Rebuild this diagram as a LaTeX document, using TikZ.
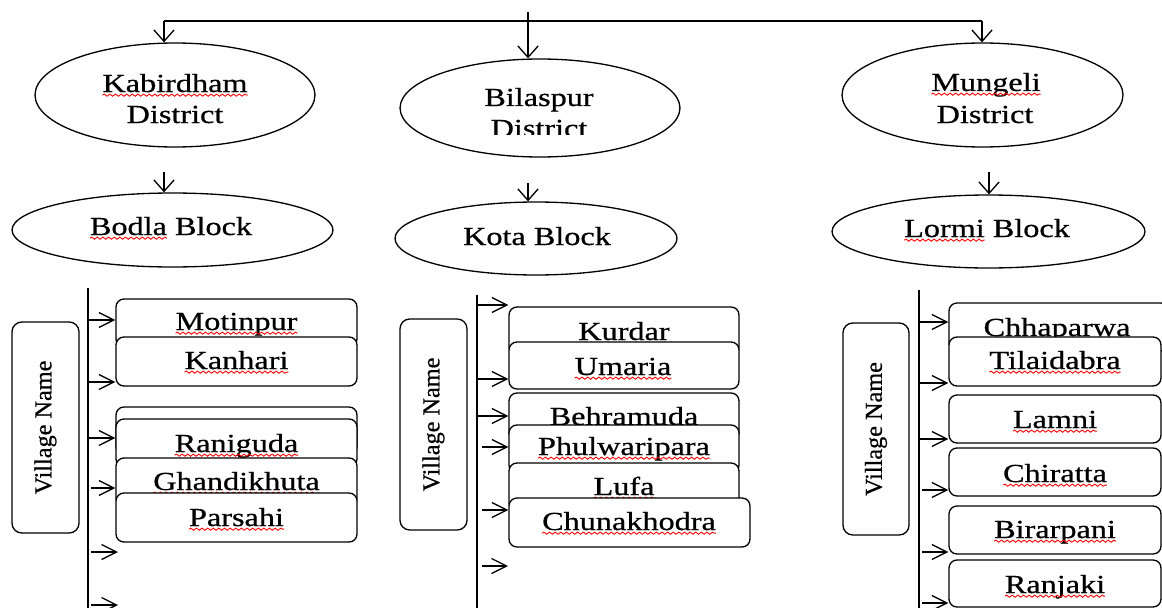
\documentclass[tikz,border=0pt]{standalone}
\usepackage{fontspec}
\setmainfont{Liberation Serif}[FakeBold=0.6]
\usepackage{graphicx}
\usetikzlibrary{shapes.geometric,arrows.meta,decorations.pathmorphing,calc}
\newcommand\fs{\fontsize{14.8pt}{17.6pt}\selectfont}
\newcommand\fsb{\fontsize{13.8pt}{16pt}\selectfont}
\newcommand\sx[1]{\scalebox{1.24}[1]{#1}}
\tikzset{
 ln/.style={line width=0.75pt, draw=black},
 arrv/.style={ln, -{Straight Barb[length=6.5pt,width=11.5pt]}},
 arrh/.style={ln, -{Straight Barb[length=8.5pt,width=8.5pt]}},
 ell/.style={draw, ellipse, line width=0.75pt, inner sep=0pt, fill=white},
 vbox/.style={draw, fill=white, rectangle, rounded corners=4.5pt, line width=0.75pt, inner sep=0pt},
 lbox/.style={vbox, minimum width=4.82cm},
 mbox/.style={vbox, minimum width=4.6cm},
 rbox/.style={vbox, minimum width=4.24cm},
 namebox/.style={draw, fill=white, rectangle, rounded corners=5.5pt, line width=0.75pt, inner sep=0pt, minimum width=1.34cm, minimum height=4.22cm, font=\fsb},
 txt/.style={inner sep=0pt, outer sep=0pt, font=\fs, anchor=base},
 spell/.style={draw=red, line width=0.5pt, decorate, decoration={snake, amplitude=0.6pt, segment length=3.2pt}},
}
\newcommand\sq[1]{\draw[spell] ([yshift=-1.8pt]#1.base west) -- ([yshift=-1.8pt]#1.base east);}
\newcommand\sqp[2]{\draw[spell] ([yshift=-1.8pt]#1.base west) -- ([yshift=-1.8pt]$(#1.base west)!#2!(#1.base east)$);}
\begin{document}
\begin{tikzpicture}[x=0.02cm, y=-0.02cm]
\useasboundingbox (0,0) rectangle (1162,608);
\fill[white] (0,0) rectangle (1162,608);
\clip (0,0) rectangle (1162,608);

% ---------- districts ----------
\node[ell, minimum width=5.6cm, minimum height=2.08cm] (kab) at (175,95) {};
\node[txt] (kab1) at (175,92) {\sx{Kabirdham}};
\node[txt] (kab2) at (175,123) {\sx{District}};
\sq{kab1}

\node[ell, minimum width=5.6cm, minimum height=1.96cm] (bil) at (540,108) {};
\begin{scope}
\clip (420,60) rectangle (660,134);
\node[txt] (bil1) at (539,106) {\sx{Bilaspur}};
\node[txt] (bil2) at (539,137) {\sx{District}};
\end{scope}

\node[ell, minimum width=5.62cm, minimum height=2.08cm] (mun) at (982.5,95) {};
\node[txt] (mun1) at (986,91) {\sx{Mungeli}};
\node[txt] (mun2) at (985,123) {\sx{District}};
\sq{mun1}

% ---------- blocks ----------
\node[ell, minimum width=6.42cm, minimum height=1.48cm] (bod) at (172.5,230) {};
\node[txt] (bod1) at (171,235) {\sx{Bodla Block}};
\sqp{bod1}{0.475}

\node[ell, minimum width=5.64cm, minimum height=1.46cm] (kot) at (536,238.5) {};
\node[txt] (kot1) at (537,245) {\sx{Kota Block}};

\node[ell, minimum width=6.26cm, minimum height=1.46cm] (lor) at (988.5,231.5) {};
\node[txt] (lor1) at (987,237) {\sx{Lormi Block}};
\sqp{lor1}{0.486}

% ---------- top connectors ----------
\coordinate (root) at (528,12);
\coordinate (hl) at (164,21);
\coordinate (hr) at (982,21);
\draw[ln] (hl) -- (hr);
\draw[arrv] (root) -- (root |- bil.north);
\draw[arrv] (hl) -- (hl |- kab.north);
\draw[arrv] (hr) -- (hr |- mun.north);
\coordinate (d1) at (164,172);
\coordinate (d2) at (528,183);
\coordinate (d3) at (989,172);
\draw[arrv] (d1) -- (d1 |- bod.north);
\draw[arrv] (d2) -- (d2 |- kot.north);
\draw[arrv] (d3) -- (d3 |- lor.north);

% ---------- left column ----------
\node[namebox] (vn1) at (45.5,427.5) {\rotatebox{90}{Village Name}};
\coordinate (l0) at (88,288);
\coordinate (l9) at (88,612);
\draw[ln] (l0) -- (l9);
\node[lbox, minimum height=0.96cm] (mot) at (236.5,323) {};
\node[txt] (mot1) at (236.5,330) {\sx{Motinpur}};
\sq{mot1}
\node[lbox, minimum height=0.98cm] (kan) at (236.5,361.5) {};
\node[txt] (kan1) at (236.5,369) {\sx{Kanhari}};
\sq{kan1}
\node[lbox, minimum height=0.96cm] (emp) at (236.5,431) {};
\node[lbox, minimum height=0.96cm] (ran) at (236.5,443) {};
\node[txt] (ran1) at (236.5,452) {\sx{Raniguda}};
\sq{ran1}
\node[lbox, minimum height=0.96cm] (gha) at (236.5,482) {};
\node[txt] (gha1) at (236.5,490) {\sx{Ghandikhuta}};
\sq{gha1}
\node[lbox, minimum height=0.98cm] (par) at (236.5,517.5) {};
\node[txt] (par1) at (236.5,526) {\sx{Parsahi}};
\sq{par1}
\coordinate (la1) at (88,320);
\coordinate (la2) at (88,382);
\coordinate (la3) at (88,438);
\coordinate (la4) at (91,488);
\coordinate (la5) at (91,552);
\coordinate (la6) at (91,605);
\coordinate (le5) at (118,552);
\coordinate (le6) at (118,605);
\draw[arrh] (la1) -- (la1 -| mot.west);
\draw[arrh] (la2) -- (la2 -| kan.west);
\draw[arrh] (la3) -- (la3 -| ran.west);
\draw[arrh] (la4) -- (la4 -| gha.west);
\draw[arrh] (la5) -- (le5);
\draw[arrh] (la6) -- (le6);

% ---------- middle column ----------
\node[namebox] (vn2) at (433.5,424.5) {\rotatebox{90}{Village Name}};
\coordinate (m0) at (477,295);
\coordinate (m9) at (477,612);
\draw[ln] (m0) -- (m9);
\node[mbox, minimum height=0.96cm] (kur) at (624,331) {};
\node[txt] (kur1) at (624,340) {\sx{Kurdar}};
\sq{kur1}
\node[mbox, minimum height=0.94cm] (uma) at (624,365.5) {};
\node[txt] (uma1) at (623,375) {\sx{Umaria}};
\sq{uma1}
\node[mbox, minimum height=0.96cm] (beh) at (624,417) {};
\node[txt] (beh1) at (624,425) {\sx{Behramuda}};
\node[mbox, minimum height=0.96cm] (phu) at (624,449) {};
\node[txt] (phu1) at (624,455) {\sx{Phulwaripara}};
\sq{phu1}
\node[mbox, minimum height=0.96cm] (luf) at (624,487) {};
\node[txt] (luf1) at (624,495) {\sx{Lufa}};
\sq{luf1}
\node[vbox, minimum width=4.82cm, minimum height=0.98cm] (chu) at (629.5,522.5) {};
\node[txt] (chu1) at (629,530) {\sx{Chunakhodra}};
\sq{chu1}
\coordinate (ma1) at (477,305);
\coordinate (ma2) at (477,379);
\coordinate (ma3) at (477,416);
\coordinate (ma4) at (482,447);
\coordinate (ma5) at (482,510);
\coordinate (ma6) at (482,566);
\coordinate (me6) at (508,566);
\draw[arrh] (ma1) -- (ma1 -| kur.west);
\draw[arrh] (ma2) -- (ma2 -| uma.west);
\draw[arrh] (ma3) -- (ma3 -| beh.west);
\draw[arrh] (ma4) -- (ma4 -| phu.west);
\draw[arrh] (ma5) -- (ma5 -| chu.west);
\draw[arrh] (ma6) -- (me6);

% ---------- right column ----------
\node[namebox, minimum width=1.32cm, minimum height=4.24cm] (vn3) at (876,429) {\rotatebox{90}{Village Name}};
\coordinate (r0) at (919,290);
\coordinate (r9) at (919,612);
\draw[ln] (r0) -- (r9);
\node[vbox, minimum width=4.4cm, minimum height=0.96cm] (chh) at (1059,327) {};
\node[txt] (chh1) at (1057,336) {\sx{Chhaparwa}};
\sq{chh1}
\node[rbox, minimum height=0.98cm] (til) at (1055,361.5) {};
\node[txt] (til1) at (1055,369) {\sx{Tilaidabra}};
\sq{til1}
\node[rbox, minimum height=0.96cm] (lam) at (1055,419) {};
\node[txt] (lam1) at (1055,428) {\sx{Lamni}};
\sq{lam1}
\node[rbox, minimum height=0.96cm] (chi) at (1055,472) {};
\node[txt] (chi1) at (1055,482) {\sx{Chiratta}};
\sq{chi1}
\node[rbox, minimum height=0.96cm] (bir) at (1055,530) {};
\node[txt] (bir1) at (1055,538) {\sx{Birarpani}};
\sq{bir1}
\node[rbox, minimum height=0.94cm] (ranj) at (1055,583.5) {};
\node[txt] (ranj1) at (1055,593) {\sx{Ranjaki}};
\sq{ranj1}
\coordinate (ra1) at (919,322);
\coordinate (ra2) at (919,383);
\coordinate (ra3) at (919,439);
\coordinate (ra4) at (922,490);
\coordinate (ra5) at (922,552);
\coordinate (ra6) at (922,603);
\draw[arrh] (ra1) -- (ra1 -| chh.west);
\draw[arrh] (ra2) -- (ra2 -| til.west);
\draw[arrh] (ra3) -- (ra3 -| lam.west);
\draw[arrh] (ra4) -- (ra4 -| chi.west);
\draw[arrh] (ra5) -- (ra5 -| bir.west);
\draw[arrh] (ra6) -- (ra6 -| ranj.west);
\end{tikzpicture}
\end{document}
